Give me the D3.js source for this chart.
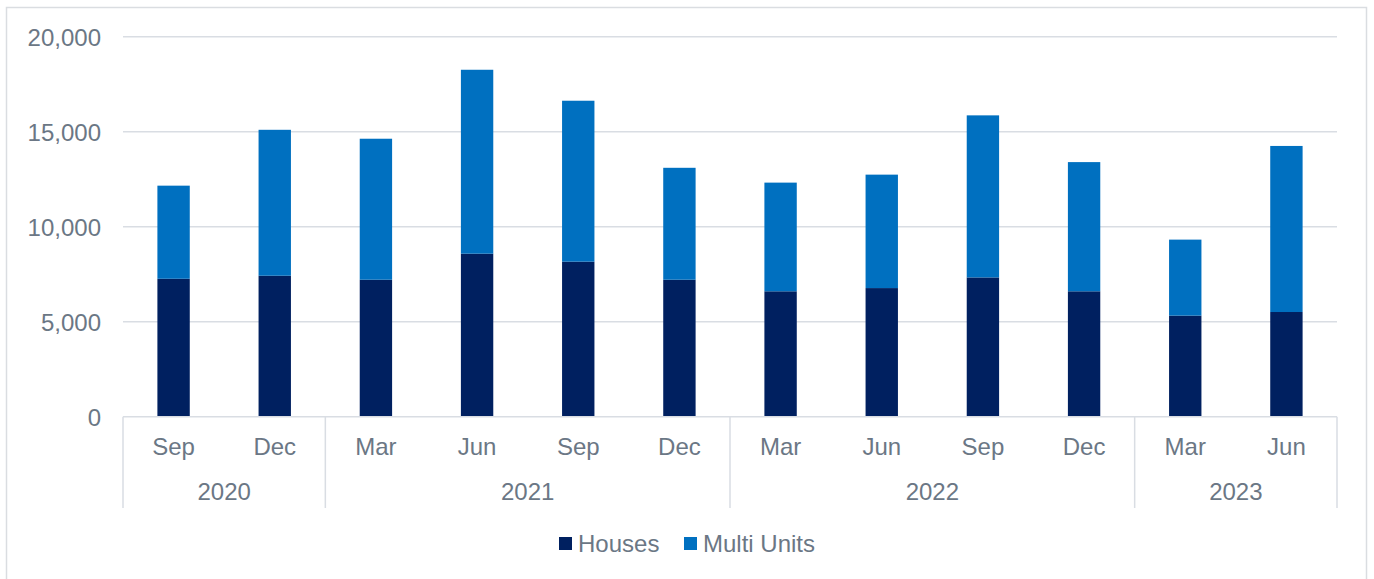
<!DOCTYPE html>
<html><head><meta charset="utf-8">
<script src="https://cdn.jsdelivr.net/npm/d3@7"></script>
<style>body{margin:0;background:#fff;}svg{display:block;font-family:"Liberation Sans",Arial,sans-serif;}</style>
</head><body><svg id="c" width="1374" height="579"></svg>
<script>
const months = ["Sep","Dec","Mar","Jun","Sep","Dec","Mar","Jun","Sep","Dec","Mar","Jun"];
const years = ["2020","2020","2021","2021","2021","2021","2022","2022","2022","2022","2023","2023"];
const houses = [7260,7420,7210,8580,8160,7210,6600,6770,7330,6600,5320,5510];
const totals = [12160,15100,14630,18260,16630,13100,12320,12740,15860,13400,9320,14250];
const multiUnits = totals.map((t,i)=>t-houses[i]);
const yTicks = [0,5000,10000,15000,20000];
const seriesNames = ["Houses","Multi Units"];
const colors = ["#002060","#0070C0"];

const svg = d3.select("#c");
const textColor="#6b7785", gridColor="#d9dde3", fs="24px";
svg.append("rect").attr("x",6.5).attr("y",7.5).attr("width",1360).attr("height",580).attr("fill","#fff").attr("stroke","#dadde1").attr("stroke-width",1.5);

const x0=123,x1=1337,yTop=36.7,yBot=416.7;
const idx = d3.range(months.length);
const x = d3.scaleBand().domain(idx).range([x0,x1]).paddingInner(0.68).paddingOuter(0.34);
const y = d3.scaleLinear().domain([0,20000]).range([yBot,yTop]);

svg.append("g").selectAll("line").data(yTicks.filter(d=>d>0)).join("line")
  .attr("x1",x0).attr("x2",x1).attr("y1",d=>y(d)).attr("y2",d=>y(d))
  .attr("stroke",gridColor).attr("stroke-width",1.5);

const yAxis = d3.axisLeft(y).tickValues(yTicks).tickFormat(d3.format(",")).tickSize(0).tickPadding(22);
const gy = svg.append("g").attr("transform",`translate(${x0},0)`).call(yAxis);
gy.select(".domain").remove();
gy.selectAll("text").attr("fill",textColor).style("font-size",fs).style("font-family","inherit").attr("dy","0.35em");

const stack = d3.stack().keys([0,1]).value((d,k)=> k===0?houses[d]:multiUnits[d]);
const series = stack(idx);
svg.append("g").selectAll("g").data(series).join("g").attr("fill",(d,i)=>colors[i])
  .selectAll("rect").data(d=>d).join("rect")
  .attr("x",d=>x(d.data)).attr("width",x.bandwidth())
  .attr("y",d=>y(d[1])).attr("height",d=>y(d[0])-y(d[1]));

const step = x.step();
const g = svg.append("g");
g.append("line").attr("x1",x0).attr("x2",x1).attr("y1",yBot).attr("y2",yBot).attr("stroke",gridColor).attr("stroke-width",1.5);
g.selectAll("text.m").data(idx).join("text").attr("class","m")
  .attr("x",i=>x(i)+x.bandwidth()/2).attr("y",447).attr("dy","0.35em").attr("text-anchor","middle")
  .attr("fill",textColor).style("font-size",fs).text(i=>months[i]);
const groups = [];
years.forEach((yv,i)=>{ if(!groups.length||groups[groups.length-1].year!==yv) groups.push({year:yv,start:i,end:i}); else groups[groups.length-1].end=i; });
const edge = i => x0 + i*step;
const seps = [0].concat(groups.map(gr=>gr.end+1));
g.selectAll("line.sep").data(seps).join("line").attr("class","sep")
  .attr("x1",d=>edge(d)).attr("x2",d=>edge(d)).attr("y1",yBot).attr("y2",508)
  .attr("stroke",gridColor).attr("stroke-width",1.5);
g.selectAll("text.yr").data(groups).join("text").attr("class","yr")
  .attr("x",d=>(edge(d.start)+edge(d.end+1))/2).attr("y",492).attr("dy","0.35em").attr("text-anchor","middle")
  .attr("fill",textColor).style("font-size",fs).text(d=>d.year);

const leg = svg.append("g");
const legX=[559,684];
seriesNames.forEach((n,i)=>{
  leg.append("rect").attr("x",legX[i]).attr("y",537).attr("width",13).attr("height",13).attr("fill",colors[i]);
  leg.append("text").attr("x",legX[i]+19).attr("y",543.5).attr("dy","0.35em").attr("fill",textColor).style("font-size",fs).text(n);
});
</script></body></html>
